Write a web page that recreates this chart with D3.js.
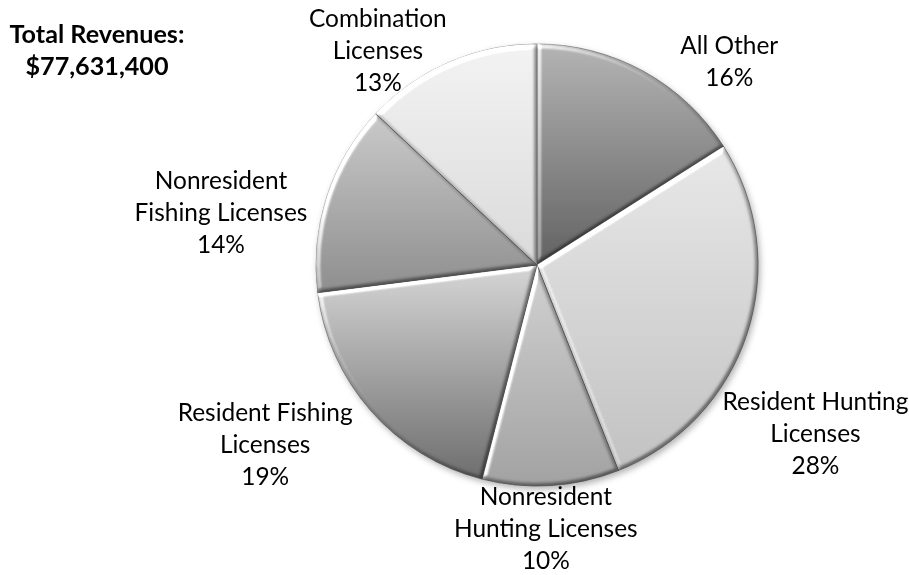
<!DOCTYPE html>
<html>
<head>
<meta charset="utf-8">
<script src="https://cdn.jsdelivr.net/npm/d3@7"></script>
<style>
  html, body { margin: 0; padding: 0; background: #fff; }
  svg text { font-family: Lato, "Open Sans", sans-serif; fill: #000; }
</style>
</head>
<body>
<div id="chart"></div>
<script>
"use strict";

// slices, clockwise from 12 o'clock
const categories = [
  "All Other",
  "Resident Hunting\nLicenses",
  "Nonresident\nHunting Licenses",
  "Resident Fishing\nLicenses",
  "Nonresident\nFishing Licenses",
  "Combination\nLicenses"
];
const shares = [16, 28, 10, 19, 14, 13];
const titleLines = ["Total Revenues:", "$77,631,400"];

// grey fills, top / bottom of each slice gradient
const topColors = ["#b4b4b4", "#e8e8e8", "#d2d2d2", "#d6d6d6", "#cacaca", "#f3f3f3"];
const bottomColors = ["#626262", "#c2c2c2", "#a2a2a2", "#6e6e6e", "#8e8e8e", "#dadada"];

// label block centres, relative to the pie centre in radius units
const labelSpots = [[0.87, -0.92], [1.26, 0.76], [0.04, 1.19], [-1.23, 0.81], [-1.43, -0.24], [-0.72, -0.97]];

const width = 909, height = 575;
const cx = 537, cy = 265, radius = 221;
const lineH = 32;

const svg = d3.select("#chart").append("svg")
  .attr("width", width)
  .attr("height", height);

const defs = svg.append("defs");

// bevel: light from top-left on each slice
// highlight is added, shade is multiplied (so dark edges stay soft)
const bevel = defs.append("filter")
  .attr("id", "bevel")
  .attr("x", "-5%").attr("y", "-5%")
  .attr("width", "110%").attr("height", "110%")
  .attr("color-interpolation-filters", "sRGB");
bevel.append("feGaussianBlur")
  .attr("in", "SourceAlpha").attr("stdDeviation", 2.2).attr("result", "blur");
bevel.append("feDiffuseLighting")
  .attr("in", "blur").attr("surfaceScale", 4).attr("diffuseConstant", 1)
  .attr("lighting-color", "#fff").attr("result", "light")
  .append("feDistantLight").attr("azimuth", 225).attr("elevation", 45);
bevel.append("feColorMatrix")
  .attr("in", "light").attr("type", "matrix").attr("result", "hi")
  .attr("values", "1.5 0 0 0 -1.06  1.5 0 0 0 -1.06  1.5 0 0 0 -1.06  0 0 0 0 1");
bevel.append("feColorMatrix")
  .attr("in", "light").attr("type", "matrix").attr("result", "shade")
  .attr("values", "0.6 0 0 0 0.576  0.6 0 0 0 0.576  0.6 0 0 0 0.576  0 0 0 0 1");
bevel.append("feComposite")
  .attr("in", "SourceGraphic").attr("in2", "shade")
  .attr("operator", "arithmetic")
  .attr("k1", 1).attr("k2", 0).attr("k3", 0).attr("k4", 0)
  .attr("result", "shaded");
bevel.append("feComposite")
  .attr("in", "shaded").attr("in2", "hi")
  .attr("operator", "arithmetic")
  .attr("k1", 0).attr("k2", 1).attr("k3", 1).attr("k4", 0)
  .attr("result", "lit");
bevel.append("feComposite")
  .attr("in", "lit").attr("in2", "SourceAlpha").attr("operator", "in");

// soft shadow under the whole pie
const shadow = defs.append("filter")
  .attr("id", "shadow")
  .attr("x", "-10%").attr("y", "-10%")
  .attr("width", "120%").attr("height", "120%");
shadow.append("feDropShadow")
  .attr("dx", 2).attr("dy", 3).attr("stdDeviation", 3)
  .attr("flood-color", "#000").attr("flood-opacity", 0.3);

categories.forEach((c, i) => {
  const g = defs.append("linearGradient")
    .attr("id", "grad" + i)
    .attr("x1", 0).attr("y1", 0).attr("x2", 0).attr("y2", 1);
  g.append("stop").attr("offset", "0%").attr("stop-color", topColors[i]);
  g.append("stop").attr("offset", "100%").attr("stop-color", bottomColors[i]);
});

const pie = d3.pie().sort(null).value(d => d)(shares);
const arc = d3.arc().innerRadius(0).outerRadius(radius);

const pieG = svg.append("g")
  .attr("transform", `translate(${cx},${cy})`)
  .attr("filter", "url(#shadow)");

pieG.selectAll("path.slice")
  .data(pie)
  .enter()
  .append("path")
  .attr("class", "slice")
  .attr("d", arc)
  .attr("fill", (d, i) => `url(#grad${i})`)
  .attr("stroke", "#7a7a7a")
  .attr("stroke-width", 0.5)
  .attr("filter", "url(#bevel)");

// font sizes picked so text spans about what it does in the original
const probe = svg.append("text").style("font-size", "20px").text("Resident Hunting");
const fs = 20 * 186 / probe.node().getComputedTextLength();
probe.style("font-weight", "bold").text(titleLines[0]);
const titleFs = 20 * 175 / probe.node().getComputedTextLength();
probe.remove();

const labels = svg.append("g")
  .attr("transform", `translate(${cx},${cy})`);

pie.forEach((d, i) => {
  const lines = categories[i].split("\n").concat([Math.round(shares[i]) + "%"]);
  const [ux, uy] = labelSpots[i];
  const y0 = uy * radius - (lines.length - 1) * lineH / 2;
  const t = labels.append("text")
    .attr("text-anchor", "middle")
    .style("font-size", fs + "px");
  lines.forEach((ln, j) => {
    t.append("tspan")
      .attr("x", ux * radius)
      .attr("y", y0 + j * lineH)
      .attr("dy", "0.35em")
      .text(ln);
  });
});

const title = svg.append("text")
  .attr("text-anchor", "middle")
  .style("font-size", titleFs + "px")
  .style("font-weight", "bold");
titleLines.forEach((ln, j) => {
  title.append("tspan")
    .attr("x", 97)
    .attr("y", 34 + j * lineH)
    .attr("dy", "0.35em")
    .text(ln);
});
</script>
</body>
</html>
